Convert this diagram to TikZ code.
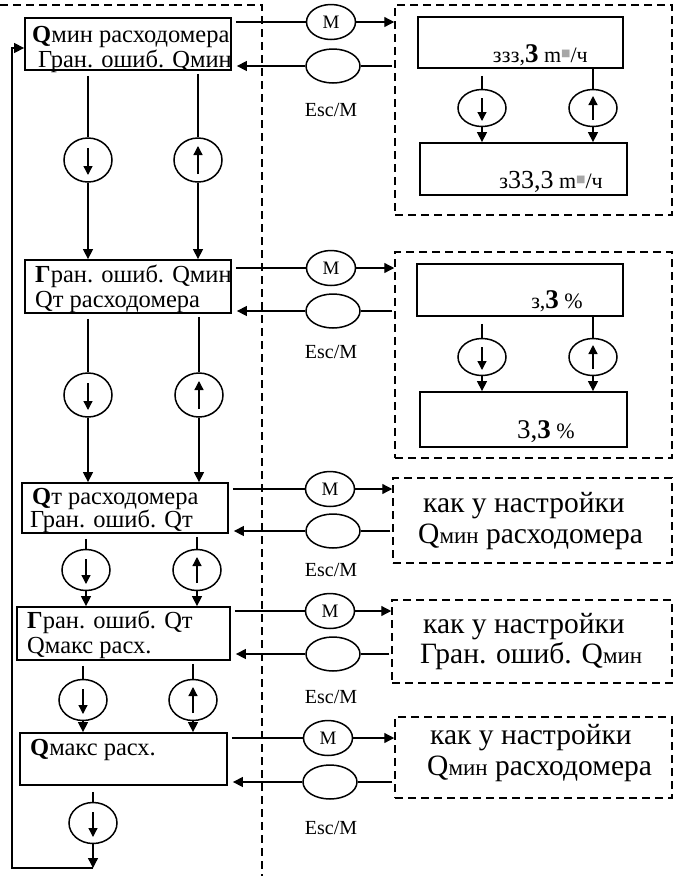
\documentclass[tikz,border=0pt]{standalone}
\usepackage{fontspec}
\setmainfont{Liberation Serif}
\newfontfamily\dejavu{DejaVu Sans}
\usetikzlibrary{arrows.meta,shapes.geometric}
\newcommand\lbx{\fontsize{24.5}{26}\selectfont}
\newcommand\rbx{\fontsize{29.5}{31}\selectfont}
\newcommand\smq{\fontsize{22}{24}\selectfont}
\newcommand\smr{\fontsize{23}{25}\selectfont}
\newcommand\bgq{\fontsize{27}{29}\selectfont}
\newcommand\sqg{\raisebox{6pt}{\textcolor{gray!70}{\dejavu\fontsize{10}{10}\selectfont ■}}}
\begin{document}
\begin{tikzpicture}[x=1pt,y=-1pt,
  conn/.style={line width=1.3pt},
  arr/.style={conn,-{Triangle[length=10pt,width=10pt]}},
  inarr/.style={line width=1.3pt,-{Triangle[length=9pt,width=9pt]}},
  bx/.style={draw,line width=1.8pt,inner sep=0pt,rectangle},
  dbox/.style={draw,line width=1.5pt,dash pattern=on 8pt off 5pt,inner sep=0pt,rectangle},
  btn/.style={draw,ellipse,line width=1.5pt,inner sep=0pt,minimum width=48pt,minimum height=44pt},
  sbtn/.style={btn,minimum height=41pt},
  ibtn/.style={btn,minimum width=48pt,minimum height=37pt},
  mbtn/.style={draw,ellipse,line width=1.5pt,inner sep=0pt,minimum width=49pt,minimum height=35pt,font=\fontsize{19}{19}\selectfont},
  ebtn/.style={draw,ellipse,line width=1.5pt,inner sep=0pt,minimum width=54pt,minimum height=34pt},
  lbl/.style={inner sep=0pt,font=\fontsize{20}{20}\selectfont},
  ltxt/.style={inner sep=0pt,anchor=base west,font=\lbx},
  rtxt/.style={inner sep=0pt,anchor=base west,font=\rbx},
  itxt/.style={inner sep=0pt,anchor=base east,font=\smq}]
\useasboundingbox (0,0) rectangle (676,876);

% left region dashed border
\draw[line width=1.5pt,dash pattern=on 8pt off 5pt] (0,5) -- (262,5) -- (262,876);

% left boxes
\node[bx,minimum width=206pt,minimum height=52pt] (b1) at (128,44) {};
\node[bx,minimum width=206pt,minimum height=53pt] (b2) at (128,286.5) {};
\node[bx,minimum width=206pt,minimum height=50pt] (b3) at (125,508) {};
\node[bx,minimum width=213pt,minimum height=53pt] (b4) at (123.5,633.5) {};
\node[bx,minimum width=207pt,minimum height=52pt] (b5) at (123.5,759) {};

\node[ltxt] (t1a) at (32,42) {\textbf{Q}мин расходомера};
\node[ltxt] (t1b) at (38,67) {Гран. ошиб. Qмин};
\node[ltxt] (t2a) at (35,282) {\textbf{Г}ран. ошиб. Qмин};
\node[ltxt] (t2b) at (35,307) {Qт расходомера};
\node[ltxt] (t3a) at (32,504) {\textbf{Q}т расходомера};
\node[ltxt] (t3b) at (30,527) {Гран. ошиб. Qт};
\node[ltxt] (t4a) at (27,628) {\textbf{Г}ран. ошиб. Qт};
\node[ltxt] (t4b) at (27,653) {Qмакс расх.};
\node[ltxt] (t5a) at (30,755) {\textbf{Q}макс расх.};

% left column buttons
\node[btn] (l1) at (88,160) {};
\node[btn] (u1) at (198,160) {};
\node[btn] (l2) at (88,395) {};
\node[btn] (u2) at (199,395) {};
\node[sbtn] (l3) at (86,570) {};
\node[sbtn] (u3) at (197,570) {};
\node[sbtn] (l4) at (83,700) {};
\node[sbtn] (u4) at (193,700) {};
\node[sbtn] (l5) at (93,823) {};

\foreach \n in {l1,l2}{\draw[inarr] ([yshift=12pt]\n.center) -- ([yshift=-15pt]\n.center);}
\foreach \n in {u1,u2}{\draw[inarr] ([yshift=-14pt]\n.center) -- ([yshift=14pt]\n.center);}
\foreach \n in {l3,l4,l5}{\draw[inarr] ([yshift=11pt]\n.center) -- ([yshift=-14pt]\n.center);}
\foreach \n in {u3,u4}{\draw[inarr] ([yshift=-13pt]\n.center) -- ([yshift=13pt]\n.center);}

\foreach \i/\j in {1/2,2/3,3/4,4/5}{
  \draw[conn,shorten <=5pt] (b\i.south -| l\i) -- (l\i);
  \draw[arr] (l\i) -- (l\i |- b\j.north);
  \draw[conn,shorten <=3pt] (b\i.south -| u\i) -- (u\i);
  \draw[arr] (u\i) -- (u\i |- b\j.north);
}
\draw[conn,shorten <=6pt] (b5.south -| l5) -- (l5);

% loop back
\coordinate (lb) at (12,868);
\coordinate (lt) at (12,48);
\draw[arr] (l5) -- (l5 |- lb);
\draw[arr] (l5 |- lb) -- (lb) -- (lt) -- (b1.west |- lt);

% M and Esc buttons
\node[mbtn] (m1) at (331,22) {M};
\node[ebtn] (e1) at (333,66) {};
\node[lbl] (k1) at (331,110) {Esc/M};
\node[mbtn] (m2) at (331,268) {M};
\node[ebtn] (e2) at (333,311) {};
\node[lbl] (k2) at (331,352) {Esc/M};
\node[mbtn] (m3) at (330,489) {M};
\node[ebtn] (e3) at (333,531) {};
\node[lbl] (k3) at (331,570) {Esc/M};
\node[mbtn] (m4) at (330,611) {M};
\node[ebtn] (e4) at (333,654) {};
\node[lbl] (k4) at (331,697) {Esc/M};
\node[mbtn] (m5) at (328,738) {M};
\node[ebtn] (e5) at (330,782) {};
\node[lbl] (k5) at (331,828) {Esc/M};

% right dashed boxes
\node[dbox,minimum width=277pt,minimum height=210pt] (d1) at (533.5,110) {};
\node[dbox,minimum width=277pt,minimum height=206pt] (d2) at (533.5,355) {};
\node[dbox,minimum width=279pt,minimum height=85pt] (d3) at (532.5,520.5) {};
\node[dbox,minimum width=280pt,minimum height=83pt] (d4) at (532,641.5) {};
\node[dbox,minimum width=277pt,minimum height=81pt] (d5) at (533.5,757.5) {};

\foreach \i in {1,...,5}{
  \draw[conn,shorten <=4pt] (b\i.east |- m\i) -- (m\i);
  \draw[arr] (m\i) -- (m\i -| d\i.west);
  \draw[conn,shorten <=2pt] (d\i.west |- e\i) -- (e\i);
  \draw[arr,shorten >=5pt] (e\i) -- (e\i -| b\i.east);
}

% inner boxes of first dashed box
\node[bx,minimum width=205pt,minimum height=51pt] (a1) at (520.5,42.5) {};
\node[bx,minimum width=207pt,minimum height=52pt] (a2) at (523.5,169) {};
\node[itxt] (ta1) at (588,62) {ззз,{\bgq\textbf{3}} m\sqg/ч};
\node[itxt] (ta2) at (603,188) {з{\fontsize{26}{26}\selectfont 33,3} m\sqg/ч};
\node[ibtn] (p1) at (482,108) {};
\node[ibtn] (q1) at (593,108) {};
\draw[inarr] ([yshift=10pt]p1.center) -- ([yshift=-13pt]p1.center);
\draw[inarr] ([yshift=-12pt]q1.center) -- ([yshift=12pt]q1.center);
\draw[conn,shorten <=7pt] (a1.south -| p1) -- (p1);
\draw[arr] (p1) -- (p1 |- a2.north);
\draw[conn] (a1.south -| q1) -- (q1);
\draw[arr] (q1) -- (q1 |- a2.north);

% inner boxes of second dashed box
\node[bx,minimum width=206pt,minimum height=52pt] (c1) at (520,290) {};
\node[bx,minimum width=207pt,minimum height=55pt] (c2) at (523.5,419.5) {};
\node[itxt] (tc1) at (583,308) {з,{\bgq\textbf{3}} \%};
\node[itxt] (tc2) at (575,438) {{\bgq 3,\textbf{3}} \%};
\node[ibtn] (p2) at (482,357) {};
\node[ibtn] (q2) at (593,357) {};
\draw[inarr] ([yshift=10pt]p2.center) -- ([yshift=-13pt]p2.center);
\draw[inarr] ([yshift=-12pt]q2.center) -- ([yshift=12pt]q2.center);
\draw[conn,shorten <=7pt] (c1.south -| p2) -- (p2);
\draw[arr] (p2) -- (p2 |- c2.north);
\draw[conn] (c1.south -| q2) -- (q2);
\draw[arr] (q2) -- (q2 |- c2.north);

% texts of the other dashed boxes
\node[rtxt] (r3a) at (423,512) {как у настройки};
\node[rtxt] (r3b) at (418,543) {Q{\smr мин} расходомера};
\node[rtxt] (r4a) at (423,633) {как у настройки};
\node[rtxt] (r4b) at (420,663) {Гран. ошиб. Q{\smr мин}};
\node[rtxt] (r5a) at (430,744) {как у настройки};
\node[rtxt] (r5b) at (427,775) {Q{\smr мин} расходомера};
\end{tikzpicture}
\end{document}
